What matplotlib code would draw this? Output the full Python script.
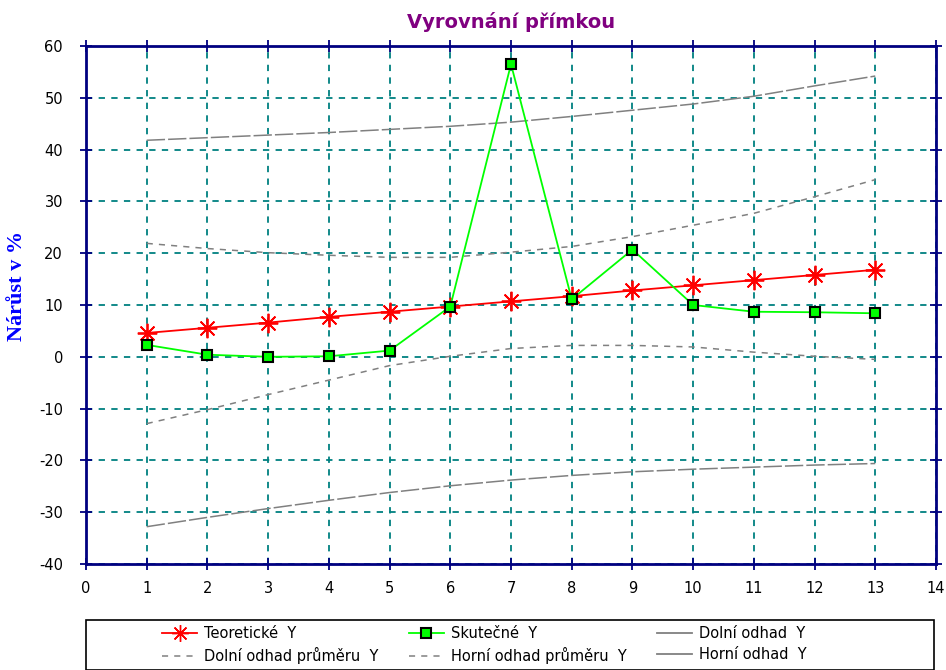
import matplotlib.pyplot as plt
from matplotlib.patches import Rectangle
from matplotlib.lines import Line2D

plt.rcParams["axes.unicode_minus"] = False

# x positions (observation index)
x = [1, 2, 3, 4, 5, 6, 7, 8, 9, 10, 11, 12, 13]

# fitted trend line and observed values
teoreticke_y = [4.6, 5.6, 6.6, 7.7, 8.7, 9.7, 10.7, 11.7, 12.8, 13.8, 14.8, 15.8, 16.8]
skutecne_y = [2.3, 0.4, 0.0, 0.1, 1.2, 9.7, 56.5, 11.1, 20.7, 10.0, 8.7, 8.6, 8.4]

# prediction band for individual values
dolni_odhad = [-32.8, -31.0, -29.3, -27.7, -26.2, -24.9, -23.8, -22.9, -22.2, -21.7, -21.3, -20.9, -20.6]
horni_odhad = [41.8, 42.3, 42.8, 43.3, 43.9, 44.5, 45.3, 46.4, 47.6, 48.8, 50.3, 52.3, 54.2]

# confidence band for the mean
dolni_prumer = [-12.9, -10.2, -7.3, -4.5, -1.7, 0.1, 1.6, 2.2, 2.2, 1.9, 0.9, 0.1, -0.5]
horni_prumer = [21.9, 20.9, 20.1, 19.6, 19.2, 19.2, 20.2, 21.3, 23.2, 25.4, 27.7, 30.9, 34.2]

NAVY = "#000080"
TEAL = "#008080"
GRAY = "#808080"

fig = plt.figure(figsize=(9.46, 6.70), dpi=100)
ax = fig.add_axes([86 / 946, 1 - 564 / 670, 850 / 946, 518 / 670])

ax.set_xlim(0, 14)
ax.set_ylim(-40, 60)
ax.set_xticks(range(0, 15))
ax.set_yticks(range(-40, 61, 10))

ax.grid(True, color=TEAL, linestyle=(0, (3.5, 3.5)), linewidth=1.3)
ax.set_axisbelow(True)

for side in ["left", "right", "top", "bottom"]:
    ax.spines[side].set_color(NAVY)
    ax.spines[side].set_linewidth(2)

ax.tick_params(axis="both", which="major", direction="inout", length=9,
               width=1.3, color=NAVY, labelsize=10.5, labelcolor="black",
               top=True, right=True)
ax.tick_params(axis="x", pad=8)
ax.tick_params(axis="y", pad=12)

gray_solid = dict(color=GRAY, linewidth=1.1, linestyle=(0, (12, 2)))
gray_dash = dict(color=GRAY, linewidth=1.1, linestyle=(0, (4, 4)))

ax.plot(x, dolni_odhad, **gray_solid)
ax.plot(x, horni_odhad, **gray_solid)
ax.plot(x, dolni_prumer, **gray_dash)
ax.plot(x, horni_prumer, **gray_dash)

ax.plot(x, teoreticke_y, color="red", linewidth=1.3,
        marker=(8, 2, 0), markersize=14, markeredgewidth=1.3,
        markeredgecolor="red")
ax.plot(x, skutecne_y, color="#00ff00", linewidth=1.3,
        marker="s", markersize=7, markerfacecolor="#00ff00",
        markeredgecolor="black", markeredgewidth=1.5)

ax.set_title("Vyrovnání přímkou", color="#800080", fontsize=14,
             fontweight="bold", family="DejaVu Sans", pad=13)
ax.set_ylabel("Nárůst v %", color="blue", fontsize=16, fontweight="bold",
              family="Liberation Serif")
ax.yaxis.set_label_coords(-0.069, 0.537)

# legend, three columns by two rows
h_teor = Line2D([], [], color="red", linewidth=1.3, marker=(8, 2, 0),
                markersize=12, markeredgecolor="red")
h_skut = Line2D([], [], color="#00ff00", linewidth=1.3, marker="s",
                markersize=7, markerfacecolor="#00ff00",
                markeredgecolor="black", markeredgewidth=1.5)
h_dolni = Line2D([], [], color=GRAY, linewidth=1.3)
h_horni = Line2D([], [], color=GRAY, linewidth=1.3)
h_dp = Line2D([], [], color=GRAY, linewidth=1.1, linestyle=(0, (4, 4)))
h_hp = Line2D([], [], color=GRAY, linewidth=1.1, linestyle=(0, (4, 4)))

handles = [h_teor, h_dp, h_skut, h_hp, h_dolni, h_horni]
labels = ["Teoretické  Y", "Dolní odhad průměru  Y", "Skutečné  Y",
          "Horní odhad průměru  Y", "Dolní odhad  Y", "Horní odhad  Y"]

fig.legend(handles, labels, ncol=3, loc="upper center",
           bbox_to_anchor=(0.512, 1 - 620 / 670), frameon=False,
           fontsize=10.5, handlelength=2.4, handletextpad=0.5,
           columnspacing=2.05, labelspacing=0.45, borderaxespad=0.0)

fig.patches.append(Rectangle((86 / 946, 0.0), 848 / 946, 50 / 670,
                             transform=fig.transFigure, fill=False,
                             edgecolor="black", linewidth=1.2))

fig.savefig("out.png", dpi=100)
